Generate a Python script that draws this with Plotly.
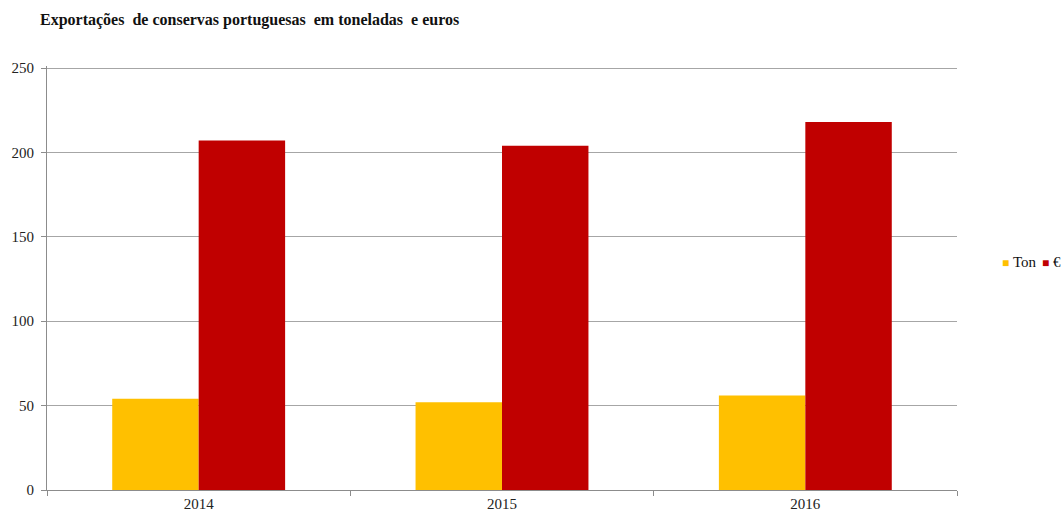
import plotly.graph_objects as go

years = ["2014", "2015", "2016"]
ton = [54, 52, 56]
euros = [207, 204, 218]
y_ticks = [0, 50, 100, 150, 200, 250]

series_names = ["Ton", "€"]
series_colors = ["#FFC000", "#C00000"]

title_text = "Exportações  de conservas portuguesas  em toneladas  e euros"

fig = go.Figure()
for name, vals, col in zip(series_names, [ton, euros], series_colors):
    fig.add_trace(go.Bar(name=name, x=years, y=vals, marker_color=col,
                         marker_line_width=0, showlegend=False))

# compact legend on the right, drawn as text with coloured squares
legend_x = [1000, 1040]
for name, col, lx in zip(series_names, series_colors, legend_x):
    fig.add_annotation(
        text=f"<span style='color:{col};font-size:12px'>■</span>&nbsp;{name}",
        xref="paper", yref="paper", x=(lx - 47) / 910, y=(490 - 262) / 424,
        xanchor="left", yanchor="middle", showarrow=False,
        font=dict(family="Liberation Serif", size=15, color="#111111"))

fig.update_layout(
    width=1062, height=517,
    margin=dict(l=47, r=105, t=66, b=27, autoexpand=False),
    paper_bgcolor="white", plot_bgcolor="white",
    font=dict(family="Liberation Serif", size=15, color="#222222"),
    barmode="group", bargap=0.43, bargroupgap=0,
    title=dict(text="<b>" + title_text.replace("  ", "&nbsp; ") + "</b>",
               x=40 / 1062, xanchor="left", y=1 - 19 / 517, yanchor="middle",
               font=dict(family="Liberation Serif", size=16, color="#111111")),
    showlegend=False,
)
fig.update_yaxes(range=[0, 251.2], tickvals=y_ticks, showgrid=True,
                 gridcolor="#A6A6A6", gridwidth=1, showline=True,
                 linecolor="#8C8C8C", linewidth=1, ticks="outside", ticklen=5,
                 tickcolor="#8C8C8C", zeroline=False, ticklabelstandoff=4,
                 tickfont=dict(size=15))
fig.update_xaxes(showline=True, linecolor="#8C8C8C", linewidth=1,
                 ticks="outside", tickson="boundaries", ticklen=5,
                 tickcolor="#8C8C8C", tickfont=dict(size=15))

fig.write_html("out.html")
